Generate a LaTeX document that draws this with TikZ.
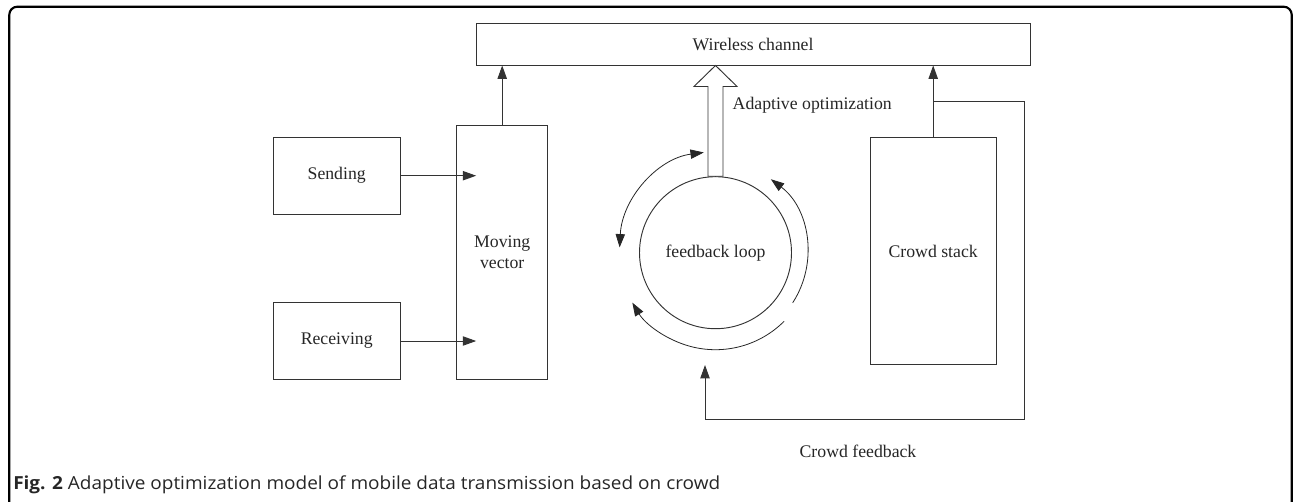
\documentclass[tikz,border=0pt]{standalone}
\usepackage{fontspec}
\setmainfont{Liberation Serif}
\newfontfamily\capfont[FakeStretch=1.055]{Open Sans}
\usetikzlibrary{arrows.meta,calc}
\begin{document}
\begin{tikzpicture}[x=0.75pt,y=-0.75pt,
  txt/.style={font=\fontsize{13.3}{15.5}\selectfont, text=black!85},
  box/.style={draw=black!80, line width=0.7pt, inner sep=0pt, align=center, txt},
  arr/.style={draw=black!80, line width=0.7pt, -{Triangle[length=10pt,width=7pt]}},
  darr/.style={draw=black!85, line width=0.6pt, {Triangle[length=10pt,width=7pt]}-{Triangle[length=10pt,width=7pt]}},
  sarr/.style={draw=black!85, line width=0.6pt, -{Triangle[length=10pt,width=7pt]}},
  line/.style={draw=black!80, line width=0.7pt}]
\useasboundingbox (0,0) rectangle (1295,501);
% outer frame
\draw[line width=1.6pt, rounded corners=6pt] (9.3,530) -- (9.3,6.7) -- (1291.7,6.7) -- (1291.7,530);
% nodes
\node[box, minimum width=415.5pt, minimum height=31.2pt] (wc) at (753,44.2) {Wireless channel};
\node[box, minimum width=95pt, minimum height=57.5pt] (send) at (336.7,175.7) {Sending};
\node[box, minimum width=95pt, minimum height=57.5pt] (recv) at (336.7,341) {Receiving};
\node[box, minimum width=67.9pt, minimum height=190.2pt] (mv) at (502.2,252.5) {Moving\\vector};
\node[box, minimum width=94.7pt, minimum height=170.1pt] (cs) at (933.2,251.1) {Crowd stack};
\node[box, circle, minimum size=114pt] (fb) at (715.5,252.7) {feedback loop};
% arrows to wireless channel
\draw[arr] (mv.north) -- (mv.north |- wc.south);
\draw[arr] (cs.north) -- (cs.north |- wc.south);
% sending / receiving into moving vector
\coordinate (mvin) at ($(mv.west)+(19.7,0)$);
\draw[arr] (send.east) -- (send.east -| mvin);
\draw[arr] (recv.east) -- (recv.east -| mvin);
% hollow arrow: adaptive optimization
\coordinate (ht) at (fb.north |- wc.south);
\draw[line, fill=white] ($(fb.north)+(-7.5,0)$) -- ($(ht)+(-7.5,21)$) -- ($(ht)+(-21.5,21)$) -- (ht)
  -- ($(ht)+(21.5,21)$) -- ($(ht)+(7.5,21)$) -- ($(fb.north)+(7.5,0)$) -- cycle;
\node[txt, anchor=west] (ao) at (728,105) {Adaptive optimization};
% loop arcs around the circle
\draw[darr] ([shift={(97:72pt and 75.75pt)}]fb.center) arc[start angle=97, end angle=177, x radius=72pt, y radius=75.75pt];
\draw[sarr] ([shift={(-33:69pt)}]fb.center) arc[start angle=-33, end angle=53, radius=69pt];
\draw[sarr] ([shift={(-45:72.75pt)}]fb.center) arc[start angle=-45, end angle=-149, radius=72.75pt];
% crowd feedback path
\coordinate (fbs) at (cs.north |- 0,101.7);
\coordinate (fr1) at (1024.3,101.7);
\coordinate (fr2) at (1024.3,419.3);
\coordinate (fr3) at (705,419.3);
\coordinate (fbtip) at (705,365);
\draw[line] (fbs) -- (fr1) -- (fr2) -- (fr3);
\draw[arr] (fr3) -- (fbtip);
\node[txt] (cf) at (858,451.6) {Crowd feedback};
% caption
\node[anchor=base west, inner sep=0pt, font=\capfont\fontsize{13.5}{15}\selectfont, text=black!85] (cap) at (13,489)
  {\textbf{Fig. 2} Adaptive optimization model of mobile data transmission based on crowd};
\end{tikzpicture}
\end{document}
